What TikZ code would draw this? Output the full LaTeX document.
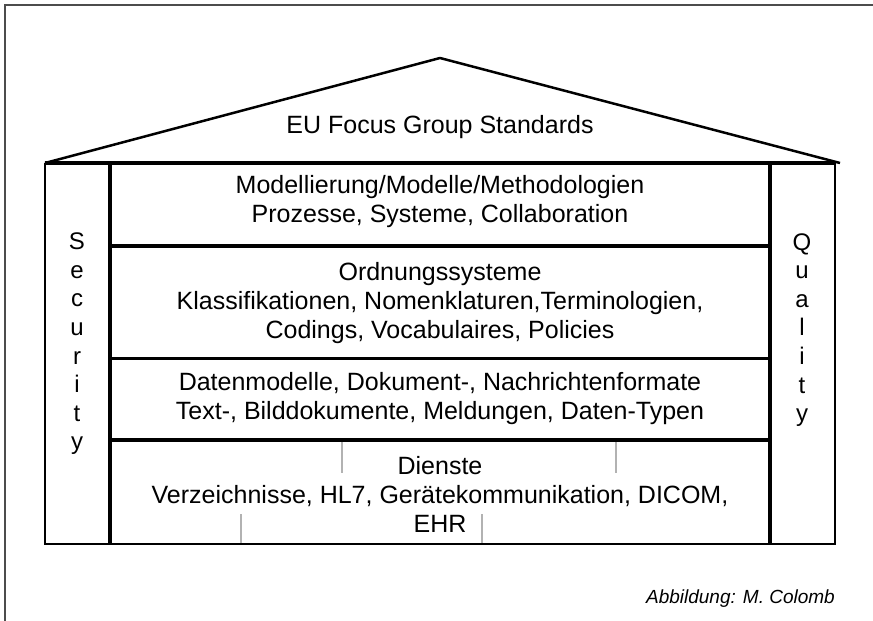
\documentclass[tikz,border=0pt]{standalone}
\usepackage{fontspec}
\setmainfont{Liberation Sans}
\usetikzlibrary{positioning}

\tikzset{
  lbl/.style={font=\fontsize{25}{29}\selectfont, align=center, inner sep=0pt},
  pillar/.style={font=\fontsize{24}{28.6}\selectfont, align=center, inner sep=0pt},
  tick/.style={gray!60, line width=1.5pt},
}

\begin{document}
\begin{tikzpicture}[x=1pt,y=-1pt]
\useasboundingbox (0,0) rectangle (873,621);

\draw[gray!60!black, line width=1.5pt] (5,621) -- (5,5) -- (873,5);

% roof
\coordinate (rl) at (45,163);
\coordinate (rr) at (840,163);
\coordinate (apex) at (440,58);
\draw[line width=2.5pt, line join=round] (rl) -- (apex) -- (rr);
\node[lbl] (eu) at (440,127) {EU Focus Group Standards};

% walls
\draw[line width=4pt] (45,163) -- (835,163);
\draw[line width=2.5pt] (45,163) -- (45,544) -- (835,544) -- (835,163);
\draw[line width=4pt] (110,163) -- (110,544);
\draw[line width=4pt] (770,163) -- (770,544);
\draw[line width=4.5pt] (110,246) -- (770,246);
\draw[line width=3pt] (110,358) -- (770,358);
\draw[line width=4.5pt] (110,440) -- (770,440);

% ticks
\draw[tick] (342,442) -- (342,473);
\draw[tick] (616,442) -- (616,473);
\draw[tick] (241,514) -- (241,543);
\draw[tick] (482,514) -- (482,543);

\node[pillar] (sec) at (77,344) {S\\e\\c\\u\\r\\i\\t\\y};
\node[pillar] (qual) at (802,330) {Q\\u\\a\\l\\i\\t\\y};

\node[lbl] (modell) at (440,202) {Modellierung/Modelle/Methodologien\\Prozesse, Systeme, Collaboration};
\node[lbl] (ordnung) at (440,303) {Ordnungssysteme\\Klassifikationen, Nomenklaturen,Terminologien,\\Codings, Vocabulaires, Policies};
\node[lbl] (daten) at (440,399) {Datenmodelle, Dokument-, Nachrichtenformate\\Text-, Bilddokumente, Meldungen, Daten-Typen};
\node[lbl] (dienste) at (440,494) {Dienste\\Verzeichnisse, HL7, Gerätekommunikation, DICOM,\\EHR};

\node[anchor=east, inner sep=0pt, font=\fontsize{19}{21}\selectfont\itshape] (abb) at (835,599) {Abbildung: M. Colomb};
\end{tikzpicture}
\end{document}
